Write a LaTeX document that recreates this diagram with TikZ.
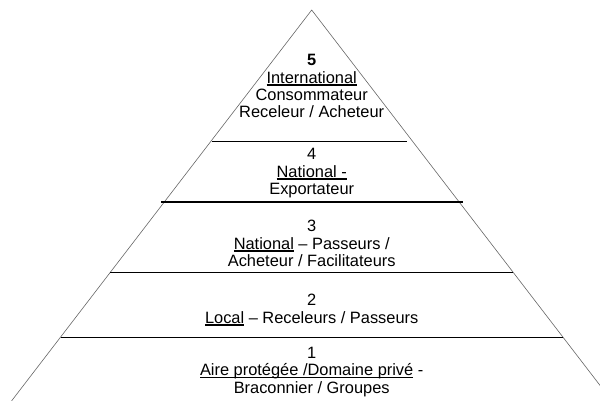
\documentclass[tikz,border=0pt]{standalone}
\usepackage{fontspec}
\setmainfont{Liberation Sans}
\usepackage{tikz}

% underline drawn as a rule under the word
\newcommand{\souligne}[1]{\setbox0\hbox{#1}\rlap{\rule[-2.6pt]{\wd0}{1.3pt}}\box0\relax}

\begin{document}
\begin{tikzpicture}[x=1pt, y=-1pt,
    niveau/.style={align=center, inner sep=0pt, anchor=north,
      font=\fontsize{16.4}{17.4}\selectfont}]
  \useasboundingbox (0,0) rectangle (600,401);
  \clip (0,0) rectangle (600,401);

  % sides of the pyramid
  \coordinate (sommet) at (311.7,10);
  \coordinate (gauche) at (11.5,401);
  \coordinate (droite) at (612,401);
  \draw[gray!80!black, line width=0.6pt] (gauche) -- (sommet) -- (droite);

  % separations between the levels
  \draw[line width=1.1pt] (211.7,141.7) -- (406.7,141.7);
  \draw[line width=1.1pt] (161,202) -- (463,202);
  \draw[line width=1.1pt] (110,272.3) -- (513.3,272.3);
  \draw[line width=1.1pt] (61,337.5) -- (563.3,337.5);

  % levels, top to bottom
  \node[niveau] (n5) at (311.7,54.3) {\textbf{5}\\ \souligne{International}\\ Consommateur\\ Receleur / Acheteur};
  \node[niveau] (n4) at (311.7,148.3) {4\\ \souligne{National -}\\ Exportateur};
  \node[niveau] (n3) at (311.7,220) {3\\ \souligne{National} -- Passeurs /\\ Acheteur / Facilitateurs};
  \node[niveau] (n2) at (311.7,294) {2\\ \souligne{Local} -- Receleurs / Passeurs};
  \node[niveau] (n1) at (311.7,347) {1\\ \souligne{Aire protégée /Domaine privé} -\\ Braconnier / Groupes};
\end{tikzpicture}
\end{document}
